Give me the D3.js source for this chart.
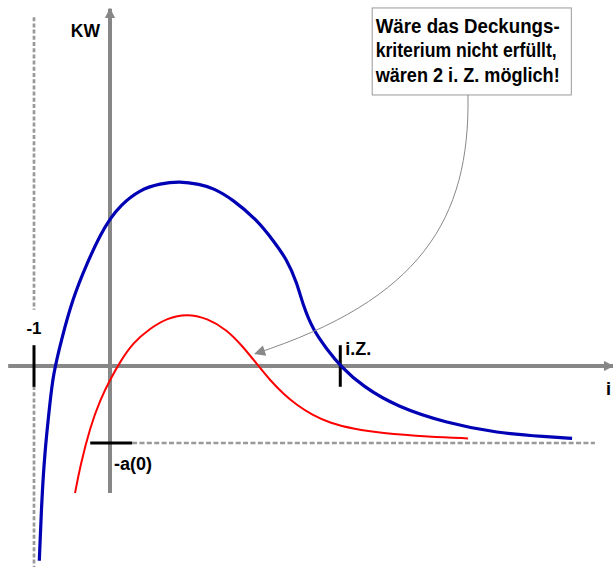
<!DOCTYPE html>
<html>
<head>
<meta charset="utf-8">
<script src="https://cdn.jsdelivr.net/npm/d3@7"></script>
<style>
  html, body { margin: 0; padding: 0; background: #fff; }
  svg { display: block; }
  text { font-family: "Liberation Sans", Arial, sans-serif; font-weight: bold; fill: #000; }
</style>
</head>
<body>
<svg id="chart" width="613" height="567"></svg>
<script>
// ---- data (chart units: i on x, KW on y; -a(0) = -1) ----
const blueI  = [-0.93,-0.90,-0.86,-0.79,-0.75,-0.64,-0.49,-0.30,-0.13,0.00,0.13,0.39,0.66,0.92,1.18,1.36,1.62,1.93,2.14,2.33,2.46,2.54,2.67,2.86,3.03,3.33,3.78,4.43,5.09,5.75,6.08];
const blueKW = [-2.53,-1.78,-1.13,-0.48,-0.12,0.34,0.88,1.34,1.70,1.91,2.08,2.29,2.37,2.40,2.36,2.31,2.16,1.90,1.64,1.38,1.08,0.79,0.47,0.21,0.00,-0.27,-0.53,-0.74,-0.87,-0.92,-0.94];
const redI   = [-0.46,-0.39,-0.26,-0.13,0.00,0.13,0.30,0.53,0.75,1.01,1.28,1.54,1.75,1.93,2.11,2.28,2.46,2.67,2.89,3.22,3.55,4.21,4.71];
const redKW  = [-1.65,-1.29,-0.79,-0.44,-0.18,0.05,0.30,0.49,0.62,0.68,0.62,0.47,0.25,0.03,-0.19,-0.36,-0.51,-0.64,-0.74,-0.82,-0.87,-0.92,-0.94];
const markI    = [-1, 3.03];          // "-1" and "i.Z."
const markLbls = ["-1", "i.Z."];
const a0 = -1;                        // -a(0)
const axisLabels = ["KW", "i", "-a(0)"];
const noteLines = ["Wäre das Deckungs-", "kriterium nicht erfüllt,", "wären 2 i. Z. möglich!"];

// ---- scales ----
const x = d3.scaleLinear().domain([-1, 0]).range([34, 110]);
const y = d3.scaleLinear().domain([0, -1]).range([366, 443]);

const svg = d3.select("#chart");
const grayAxis = "#878787", grayDash = "#999999";

// defs: arrowheads
const defs = svg.append("defs");
defs.append("marker").attr("id","axArrow").attr("viewBox","0 0 10 10")
  .attr("refX",9).attr("refY",5).attr("markerWidth",2.6).attr("markerHeight",2.6)
  .attr("markerUnits","strokeWidth").attr("orient","auto")
  .append("path").attr("d","M0,0L10,5L0,10Z").attr("fill",grayAxis);
defs.append("marker").attr("id","noteArrow").attr("viewBox","0 0 10 10")
  .attr("refX",9).attr("refY",5).attr("markerWidth",13).attr("markerHeight",11)
  .attr("markerUnits","userSpaceOnUse").attr("orient","auto")
  .append("path").attr("d","M0,0L10,5L0,10Z").attr("fill","#888");

// dashed reference lines
svg.append("line").attr("x1",x(-1)).attr("x2",x(-1)).attr("y1",y(4.53)).attr("y2",y(0.73))
  .attr("stroke",grayDash).attr("stroke-width",2.7).attr("stroke-dasharray","4,2.2");
svg.append("line").attr("x1",x(-1)).attr("x2",x(-1)).attr("y1",y(-0.26)).attr("y2",y(-2.62))
  .attr("stroke",grayDash).attr("stroke-width",2.7).attr("stroke-dasharray","4,2.2");
svg.append("line").attr("x1",x(0.29)).attr("x2",x(6.38)).attr("y1",y(a0)).attr("y2",y(a0))
  .attr("stroke",grayDash).attr("stroke-width",2.7).attr("stroke-dasharray","5,2.4");

// axes
svg.append("line").attr("x1",x(-1.34)).attr("x2",x(6.62)).attr("y1",y(0)).attr("y2",y(0))
  .attr("stroke",grayAxis).attr("stroke-width",4).attr("marker-end","url(#axArrow)");
svg.append("line").attr("x1",x(0)).attr("x2",x(0)).attr("y1",y(-1.65)).attr("y2",y(4.64))
  .attr("stroke",grayAxis).attr("stroke-width",4).attr("marker-end","url(#axArrow)");

// black marks
markI.forEach(v => {
  svg.append("line").attr("x1",x(v)).attr("x2",x(v)).attr("y1",y(0.27)).attr("y2",y(-0.27))
    .attr("stroke","#000").attr("stroke-width",3);
});
svg.append("line").attr("x1",x(-0.26)).attr("x2",x(0.29)).attr("y1",y(a0)).attr("y2",y(a0))
  .attr("stroke","#000").attr("stroke-width",3);

// curves
const line = d3.line().curve(d3.curveBasis);
svg.append("path").attr("d", line(blueI.map((v,k)=>[x(v), y(blueKW[k])])))
  .attr("fill","none").attr("stroke","#0000b4").attr("stroke-width",3.2);
svg.append("path").attr("d", line(redI.map((v,k)=>[x(v), y(redKW[k])])))
  .attr("fill","none").attr("stroke","#ff0000").attr("stroke-width",2);

// labels
svg.append("text").attr("x",x(0)-10).attr("y",37).attr("text-anchor","end").attr("font-size",17.5).text(axisLabels[0]);
svg.append("text").attr("x",606).attr("y",395).attr("font-size",18).text(axisLabels[1]);
svg.append("text").attr("x",x(0)+4).attr("y",y(a0)+27).attr("font-size",18).text(axisLabels[2]);
svg.append("text").attr("x",x(markI[0])).attr("y",y(0.42)).attr("text-anchor","middle").attr("font-size",17).text(markLbls[0]);
svg.append("text").attr("x",x(markI[1])+5).attr("y",y(0.14)).attr("font-size",18).text(markLbls[1]);

// annotation box
const bx0 = x(3.45), bx1 = x(6.07), by0 = y(4.65), by1 = y(3.52);
svg.append("rect").attr("x",bx0).attr("y",by0).attr("width",bx1-bx0).attr("height",by1-by0)
  .attr("fill","#fff").attr("stroke","#999").attr("stroke-width",1);
const lineW = [184, 181, 184];
noteLines.forEach((t,k) => {
  svg.append("text").attr("x",bx0+3.5).attr("y",by0+25+k*24.5).attr("font-size",20.5)
    .attr("textLength",lineW[k]).attr("lengthAdjust","spacingAndGlyphs").text(t);
});
// annotation arrow
const p0=[x(4.71),y(3.52)], c1=[x(4.74),y(1.90)], c2=[x(4.08),y(0.86)], p3=[x(1.91),y(0.16)];
const ap = d3.path(); ap.moveTo(...p0); ap.bezierCurveTo(...c1,...c2,...p3);
svg.append("path").attr("d",ap.toString()).attr("fill","none").attr("stroke","#888")
  .attr("stroke-width",1).attr("marker-end","url(#noteArrow)");
</script>
</body>
</html>
